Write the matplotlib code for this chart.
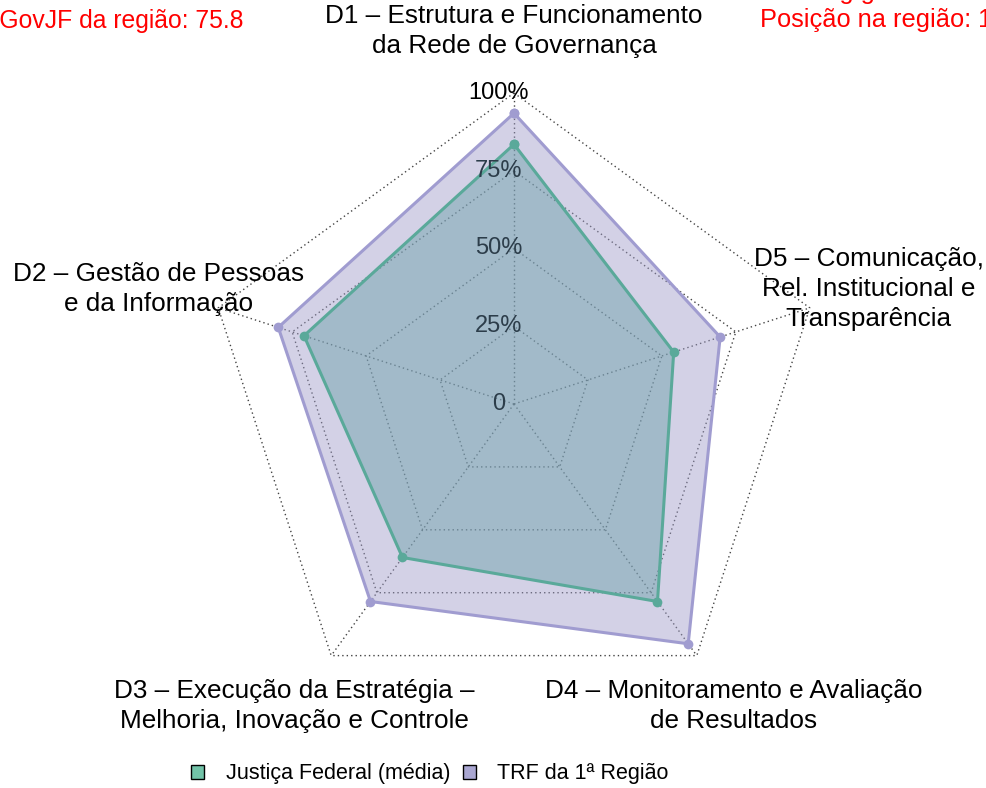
import numpy as np
import matplotlib
matplotlib.use("Agg")
import matplotlib.pyplot as plt
from matplotlib.patches import Patch

plt.rcParams['font.family'] = ['Liberation Sans', 'DejaVu Sans']

# dimensions (counter-clockwise from the top)
dimensions = [
    "D1 – Estrutura e Funcionamento\nda Rede de Governança",
    "D2 – Gestão de Pessoas\ne da Informação",
    "D3 – Execução da Estratégia –\nMelhoria, Inovação e Controle",
    "D4 – Monitoramento e Avaliação\nde Resultados",
    "D5 – Comunicação,\nRel. Institucional e\nTransparência",
]
# scores in percent
jf_media = [83.5, 71.0, 61.0, 78.5, 54.0]
trf1 = [93.5, 79.7, 78.5, 95.3, 69.7]
series_names = ["Justiça Federal (média)", "TRF da 1ª Região"]

grid_levels = [0, 25, 50, 75, 100]
grid_labels = ["0", "25%", "50%", "75%", "100%"]

igov_regiao = 75.8
posicao_regiao = 1

# colours
line_colors = ["#5aa99a", "#a09cd0"]
fill_colors = ["#679fa6", "#9e9ac8"]
legend_colors = ["#72c3a8", "#aaa7d2"]

fig = plt.figure(figsize=(9.86, 7.88), dpi=100)
ax = fig.add_axes([0, 0, 1, 1])
ax.set_xlim(-1.6527, 1.5177)
ax.set_ylim(-1.2347, 1.299)
ax.axis("off")

n = len(dimensions)
angles = np.pi / 2 + np.arange(n) * 2 * np.pi / n
cx, cy = np.cos(angles), np.sin(angles)

# grid rings and spokes
grid_style = dict(color="#444444", lw=1.0, linestyle=(0, (1, 2.2)), zorder=1)
for lev in grid_levels[1:]:
    r = lev / 100
    ax.plot(np.append(cx, cx[0]) * r, np.append(cy, cy[0]) * r, **grid_style)
for i in range(n):
    ax.plot([0, cx[i]], [0, cy[i]], **grid_style)

# series (purple behind, green on top)
for vals, lc, fc, z in [(trf1, line_colors[1], fill_colors[1], 3),
                        (jf_media, line_colors[0], fill_colors[0], 5)]:
    r = np.array(vals) / 100
    xs, ys = np.append(cx * r, cx[0] * r[0]), np.append(cy * r, cy[0] * r[0])
    ax.fill(xs, ys, color=fc, alpha=0.45, lw=0, zorder=z)
    ax.plot(xs, ys, color=lc, lw=2.2, marker="o", markersize=7,
            markeredgewidth=0, zorder=z + 1)

# axis labels
for lev, lab in zip(grid_levels, grid_labels):
    col = "black" if lev == 100 else "#2c3d4a"
    ax.text(-0.05, lev / 100, lab, ha="center", va="center", fontsize=17,
            color=col, zorder=2.5 if lev == 100 else 7)

# dimension labels
for i, lab in enumerate(dimensions):
    ax.text(cx[i] * 1.2, cy[i] * 1.2, lab, ha="center", va="center",
            fontsize=18.8, linespacing=1.32, zorder=8)

# corner annotations (partly cut by the figure border)
ax.text(-1.672, 1.209, f"iGovJF da região: {igov_regiao}", color="red",
        fontsize=17.8, ha="left", va="baseline")
ax.text(0.791, 1.212, f"Posição na região: {posicao_regiao}", color="red",
        fontsize=18.3, ha="left", va="baseline")
ax.text(0.791, 1.302, "Ranking geral: 1", color="red",
        fontsize=18.3, ha="left", va="baseline")

handles = [Patch(facecolor=legend_colors[0], edgecolor="black", lw=1.0),
           Patch(facecolor=legend_colors[1], edgecolor="black", lw=1.0)]
fig.legend(handles, series_names, loc="center", bbox_to_anchor=(0.436, 0.018),
           ncol=2, frameon=False, fontsize=15.5, handlelength=0.6,
           handleheight=0.6, handletextpad=1.0, columnspacing=0.6)

fig.savefig("out.png", dpi=100)
